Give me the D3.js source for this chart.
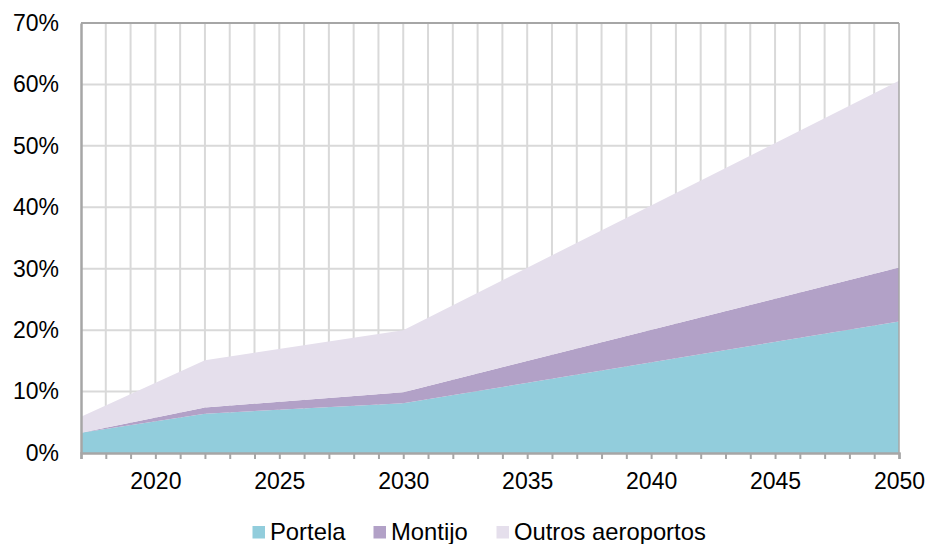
<!DOCTYPE html>
<html>
<head>
<meta charset="utf-8">
<script src="https://cdn.jsdelivr.net/npm/d3@7"></script>
<style>
  body { margin: 0; background: #fff; }
  text { font-family: "Liberation Sans", Arial, sans-serif; fill: #000; }
</style>
</head>
<body>
<div id="vis"></div>
<script>
// data (share of passengers, %)
var years = [2017, 2022, 2030, 2050];
var portela = [3.3, 6.4, 8.1, 21.4];
var montijo = [0.0, 1.0, 1.8, 8.8];
var outros = [2.6, 7.7, 10.1, 30.4];
var seriesNames = ["Portela", "Montijo", "Outros aeroportos"];
var seriesColors = ["#92cddc", "#b2a1c7", "#e5dfec"];
var yTicks = [0, 10, 20, 30, 40, 50, 60, 70];
var xTickLabels = [2020, 2025, 2030, 2035, 2040, 2045, 2050];

var width = 928;
var height = 544;
var margin = { top: 23, left: 81, bottom: 91, right: 29 };
var innerW = width - margin.left - margin.right;
var innerH = height - margin.top - margin.bottom;

var svg = d3.select("#vis").append("svg")
  .attr("width", width)
  .attr("height", height);

var g = svg.append("g")
  .attr("transform", "translate(" + margin.left + "," + margin.top + ")");

var x = d3.scaleLinear().domain([2017, 2050]).range([0, innerW]);
var y = d3.scaleLinear().domain([0, 70]).range([innerH, 0]);

// build table for the stack
var table = years.map(function (yr, i) {
  return { year: yr, Portela: portela[i], Montijo: montijo[i], "Outros aeroportos": outros[i] };
});
var stacked = d3.stack().keys(seriesNames)(table);

// grid
var allYears = d3.range(2018, 2050);
g.selectAll(".vgrid").data(allYears).enter().append("line")
  .attr("class", "vgrid")
  .attr("x1", function (d) { return x(d); })
  .attr("x2", function (d) { return x(d); })
  .attr("y1", 0).attr("y2", innerH)
  .attr("stroke", "#d9d9d9").attr("stroke-width", 2);

g.selectAll(".hgrid").data(yTicks.slice(1)).enter().append("line")
  .attr("class", "hgrid")
  .attr("x1", 0).attr("x2", innerW)
  .attr("y1", function (d) { return y(d); })
  .attr("y2", function (d) { return y(d); })
  .attr("stroke", "#d9d9d9").attr("stroke-width", 2);

// areas
var area = d3.area()
  .x(function (d) { return x(d.data.year); })
  .y0(function (d) { return y(d[0]); })
  .y1(function (d) { return y(d[1]); });

g.selectAll(".layer").data(stacked).enter().append("path")
  .attr("class", "layer")
  .attr("d", area)
  .attr("fill", function (d, i) { return seriesColors[i]; });

// plot border (top and right)
g.append("line").attr("x1", 0).attr("x2", innerW).attr("y1", 0).attr("y2", 0)
  .attr("stroke", "#a6a6a6").attr("stroke-width", 2);
g.append("line").attr("x1", innerW).attr("x2", innerW).attr("y1", 0).attr("y2", innerH)
  .attr("stroke", "#a6a6a6").attr("stroke-width", 1.5);

// y axis
var yAxis = d3.axisLeft(y)
  .tickValues(yTicks)
  .tickSize(0)
  .tickPadding(22)
  .tickFormat(function (d) { return d + "%"; });
var yG = g.append("g").attr("class", "y axis").call(yAxis);
yG.select(".domain").attr("stroke", "#a6a6a6").attr("stroke-width", 2.5);
yG.selectAll("text").style("font-size", "23px");

// x axis: minor ticks every year, labels every 5
var xAxis = d3.axisBottom(x)
  .tickValues(d3.range(2017, 2051))
  .tickSize(6)
  .tickPadding(14)
  .tickFormat(function (d) { return xTickLabels.indexOf(d) >= 0 ? d : ""; });
var xG = g.append("g").attr("class", "x axis")
  .attr("transform", "translate(0," + innerH + ")")
  .call(xAxis);
xG.select(".domain").attr("stroke", "#a6a6a6").attr("stroke-width", 2.5);
xG.selectAll(".tick line").attr("stroke", "#a6a6a6").attr("stroke-width", 2);
xG.selectAll("text").style("font-size", "23px");

// legend
var legendX = [252.5, 373.5, 496.5];
var legend = svg.selectAll(".legend").data(seriesNames).enter().append("g")
  .attr("class", "legend")
  .attr("transform", function (d, i) { return "translate(" + legendX[i] + ",526)"; });
legend.append("rect")
  .attr("width", 12.5).attr("height", 12.5)
  .attr("fill", function (d, i) { return seriesColors[i]; });
legend.append("text")
  .attr("x", 17.5).attr("y", 13.5)
  .style("font-size", "23.8px")
  .text(function (d) { return d; });
</script>
</body>
</html>
